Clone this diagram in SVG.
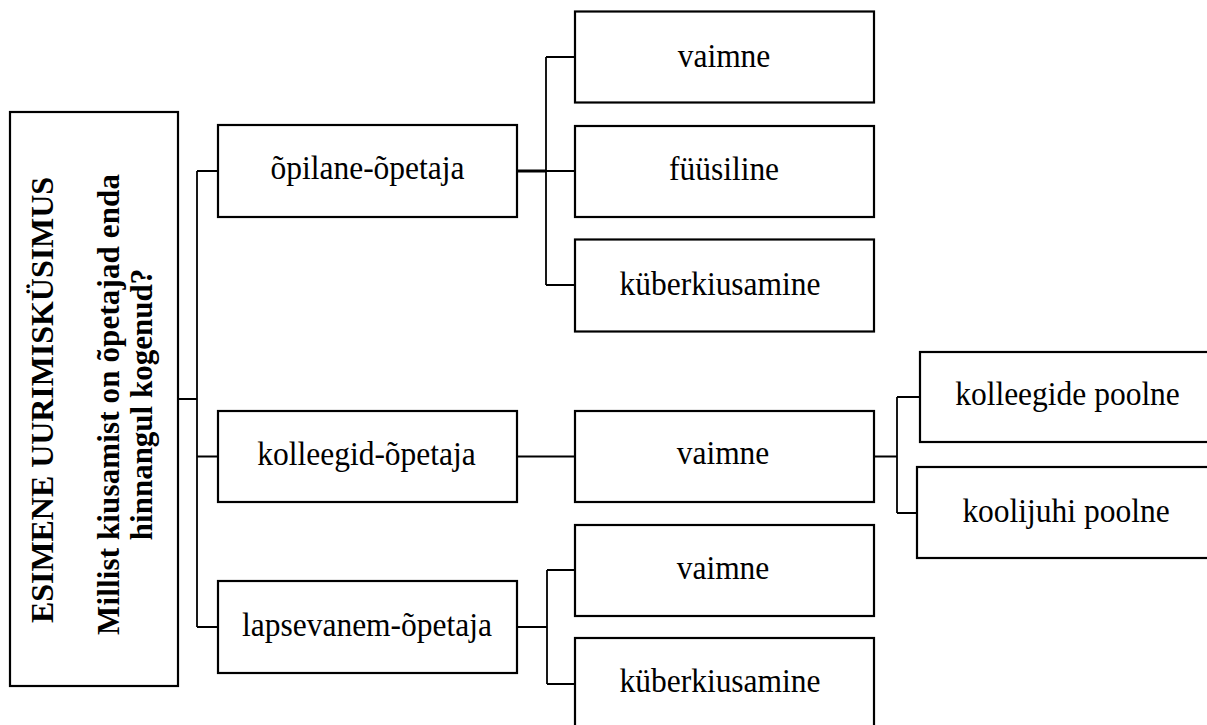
<svg xmlns="http://www.w3.org/2000/svg" width="1207" height="725" viewBox="0 0 1207 725">
<style>
.box{fill:#fff;stroke:#000;stroke-width:2.2}
.con{fill:none;stroke:#000;stroke-width:1.8}
.t{font-family:"Liberation Serif","Times New Roman",serif;font-size:31.5px;fill:#000;text-anchor:middle}
.b{font-family:"Liberation Serif","Times New Roman",serif;font-size:31px;font-weight:bold;fill:#000;text-anchor:middle}
</style>
<rect width="1207" height="725" fill="#fff"/>
<g id="connectors">
<path class="con" d="M178,399 H197 M197,171 V627 M197,171 H218 M197,456.5 H218 M197,627 H218"/>
<path class="con" d="M517,171 H546" style="stroke-width:3"/>
<path class="con" d="M546,57 V285 M546,57 H575 M546,171 H575 M546,285 H575"/>
<path class="con" d="M517,456.5 H575"/>
<path class="con" d="M874,456.5 H897 M897,397 V513 M897,397 H920 M897,513 H917"/>
<path class="con" d="M517,627 H547 M547,570 V684 M547,570 H575 M547,684 H575"/>
</g>
<g id="root">
<rect class="box" x="10" y="112" width="168" height="574"/>
<text class="b" transform="translate(53,400) rotate(-90)" textLength="446" lengthAdjust="spacingAndGlyphs">ESIMENE UURIMISKÜSIMUS</text>
<text class="b" transform="translate(119,404.5) rotate(-90)" textLength="461" lengthAdjust="spacing">Millist kiusamist on õpetajad enda</text>
<text class="b" transform="translate(152,404.5) rotate(-90)">hinnangul kogenud?</text>
</g>
<g id="n-opilane">
<rect class="box" x="218" y="125" width="299" height="92"/>
<text class="t" transform="translate(367.5,179) scale(1,1.08)">õpilane-õpetaja</text>
</g>
<g id="n-kolleegid">
<rect class="box" x="218" y="411" width="299" height="91"/>
<text class="t" transform="translate(366.5,464.5) scale(1,1.08)">kolleegid-õpetaja</text>
</g>
<g id="n-lapsevanem">
<rect class="box" x="218" y="581" width="299" height="92"/>
<text class="t" transform="translate(367,636) scale(1,1.08)">lapsevanem-õpetaja</text>
</g>
<g id="n-vaimne1">
<rect class="box" x="575" y="11.5" width="299" height="91"/>
<text class="t" transform="translate(724,66.5) scale(1,1.08)">vaimne</text>
</g>
<g id="n-fuusiline">
<rect class="box" x="575" y="126" width="299" height="91"/>
<text class="t" transform="translate(724,180) scale(1,1.08)">füüsiline</text>
</g>
<g id="n-kuber1">
<rect class="box" x="575" y="239.5" width="299" height="92"/>
<text class="t" transform="translate(720,295) scale(1,1.08)">küberkiusamine</text>
</g>
<g id="n-vaimne2">
<rect class="box" x="575" y="411" width="299" height="91"/>
<text class="t" transform="translate(723,463.5) scale(1,1.08)">vaimne</text>
</g>
<g id="n-vaimne3">
<rect class="box" x="575" y="525" width="299" height="91"/>
<text class="t" transform="translate(723,579) scale(1,1.08)">vaimne</text>
</g>
<g id="n-kuber2">
<rect class="box" x="575" y="638" width="299" height="92"/>
<text class="t" transform="translate(720,691.5) scale(1,1.08)">küberkiusamine</text>
</g>
<g id="n-kolleegide-poolne">
<rect class="box" x="920" y="352" width="299" height="90"/>
<text class="t" transform="translate(1067.5,405) scale(1,1.08)">kolleegide poolne</text>
</g>
<g id="n-koolijuhi-poolne">
<rect class="box" x="917" y="467" width="299" height="91"/>
<text class="t" transform="translate(1066,521.5) scale(1,1.08)">koolijuhi poolne</text>
</g>
</svg>
